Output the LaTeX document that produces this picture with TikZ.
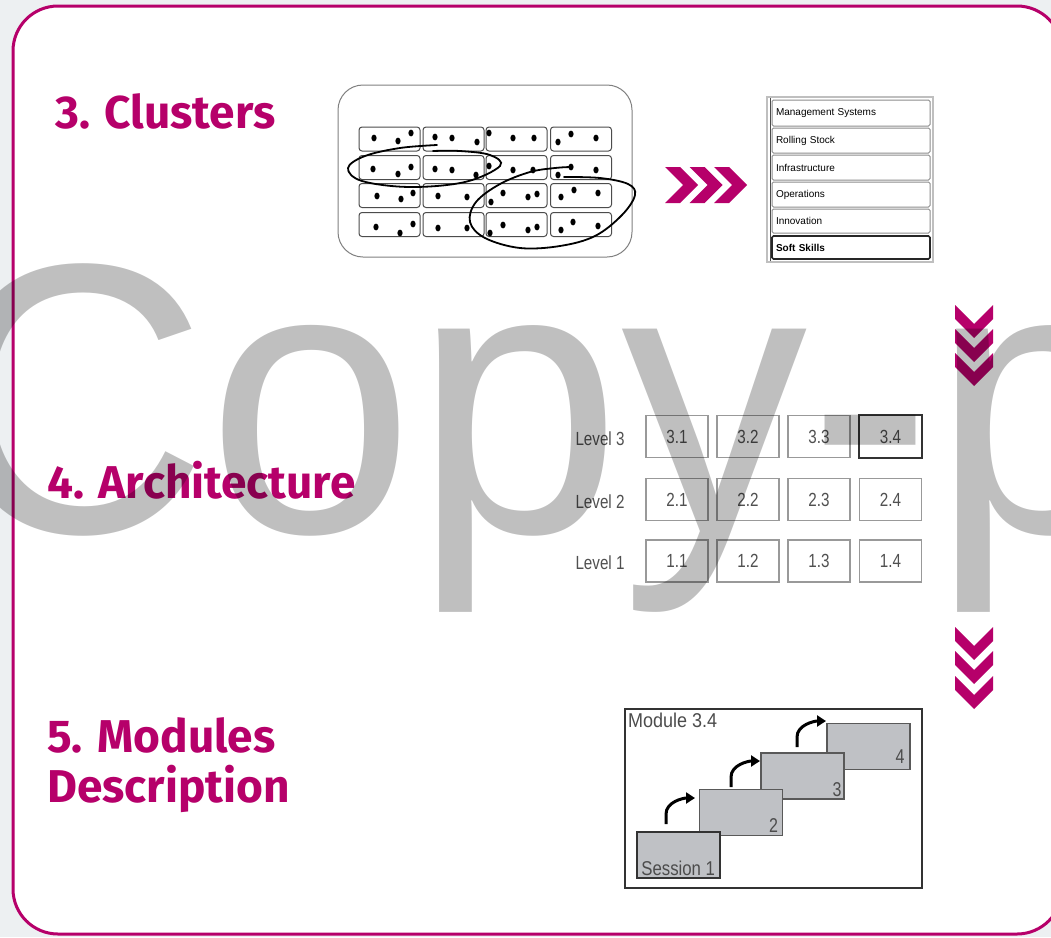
\documentclass[tikz,border=0pt]{standalone}
\usepackage{fontspec}
\usepackage{graphicx}
\setmainfont{Liberation Sans}
\newfontfamily\titlefont{Fira Sans}
\usetikzlibrary{arrows.meta}
\definecolor{brand}{RGB}{182,0,106}
\definecolor{outbg}{RGB}{237,240,242}
\definecolor{sessgray}{RGB}{191,193,197}
\definecolor{txtgray}{RGB}{80,80,80}
\tikzset{
  title/.style={anchor=base west, inner sep=0pt, text=brand, font=\titlefont\bfseries\fontsize{46}{50}\selectfont},
  cell/.style={draw=black!70, line width=1pt, rounded corners=3pt, minimum width=61pt, minimum height=24pt, inner sep=0pt},
  dot/.style={fill=black},
  listbox/.style={draw=black!45, line width=1pt, rounded corners=1.5pt, minimum width=158pt, inner sep=0pt, text width=150pt, align=left, font=\fontsize{10}{11}\selectfont},
  lvbox/.style={draw=black!40, line width=1.3pt, minimum width=62pt, minimum height=42pt, inner sep=0pt, text=txtgray, font=\fontsize{19}{20}\selectfont},
  lvlabel/.style={inner sep=0pt, text=txtgray, font=\fontsize{19}{20}\selectfont},
  sess/.style={draw=black!65, line width=1.3pt, fill=sessgray, minimum width=83pt, minimum height=46pt, inner sep=0pt},
  sesslabel/.style={inner sep=0pt, text=black!70, font=\fontsize{20}{21}\selectfont},
  turnarrow/.style={line width=3pt, -{Triangle[length=9pt,width=11pt]}},
  chevd/.pic={\fill[brand] (-19,0) -- (-19,14) -- (0,33) -- (19,14) -- (19,0) -- (0,19) -- cycle;},
  chevr/.pic={\fill[brand] (0,-18) -- (15,-18) -- (33,0) -- (15,18) -- (0,18) -- (18,0) -- cycle;},
}
\newcommand{\cx}[1]{\scalebox{0.8}[1]{#1}}
\begin{document}
\begin{tikzpicture}[x=1pt, y=-1pt]
\useasboundingbox (0,0) rectangle (1051,937);
\fill[outbg] (0,0) rectangle (1051,937);
\draw[brand, line width=3pt, fill=white, rounded corners=45pt] (13,6) rectangle (1062,934);

% titles
\node[title] (t3) at (55,128) {3. Clusters};
\node[title] (t4) at (47,498) {4. Architecture};
\node[title] (t5a) at (47,752) {5. Modules};
\node[title] (t5b) at (47,802) {Description};

% clusters picture
\draw[black!50, line width=1pt, rounded corners=25pt] (338,85) rectangle (632,257);
\foreach \r/\y in {1/139, 2/167.5, 3/195.5, 4/224.5}{
  \foreach \c/\x in {1/389.5, 2/453.5, 3/516.5, 4/581}{
    \node[cell] (c\r\c) at (\x,\y) {};
  }
}
\foreach \p in {(374,138),(398,141),(411,133),(435,137),(452,138),(477,142),(489,133),(513,138),(534,138),(558,142),(571,134),(596,138),
  (373,169),(398,174),(411,167),(435,169),(452,170),(476,175),(489,166),(513,170),(533,170),(558,175),(571,167),(596,170),
  (377,196),(401,199),(413,193),(438,196),(467,197),(491,202),(503,193),(528,197),(537,194),(561,197),(574,190),(598,193),
  (376,227),(400,233),(413,224),(438,228),(467,228),(490,233),(503,225),(528,230),(537,227),(561,230),(573,222),(598,226)}{
  \fill[dot] \p ellipse (2.6 and 3.4);
}
\draw[line width=1.8pt, line cap=round] plot[smooth, tension=0.6] coordinates {(437,145) (400,148) (365,156) (348,168) (362,181) (410,187) (465,182) (500,166) (490,155) (460,151) (433,151)};
\draw[line width=1.8pt, line cap=round] plot[smooth, tension=0.6] coordinates {(564,177) (600,178) (628,184) (635,195) (622,215) (595,236) (560,246) (520,248) (485,238) (470,222) (476,202) (500,184) (530,172) (555,168) (571,167)};

% chevrons
\pic at (665,185) {chevr};
\pic at (689.5,185) {chevr};
\pic at (714,185) {chevr};
\pic at (974,305) {chevd};
\pic at (974,329) {chevd};
\pic at (974,353) {chevd};
\pic at (974,627) {chevd};
\pic at (974,651) {chevd};
\pic at (974,676) {chevd};

% list
\draw[black!25, line width=1.5pt] (767,97) rectangle (933,262);
\draw[black!70, line width=1pt] (770,98) -- (770,261);
\node[listbox, minimum height=26pt] (l1) at (851,113) {Management Systems};
\node[listbox, minimum height=25pt] (l2) at (851,140.5) {Rolling Stock};
\node[listbox, minimum height=25pt] (l3) at (851,167.5) {Infrastructure};
\node[listbox, minimum height=25pt] (l4) at (851,194.5) {Operations};
\node[listbox, minimum height=24pt] (l5) at (851,221) {Innovation};
\node[listbox, minimum height=23pt, draw=black!85, line width=1.6pt, font=\bfseries\fontsize{10}{11}\selectfont] (l6) at (851,247.5) {Soft Skills};

% architecture grid
\foreach \r/\y in {3/436.5, 2/499.5, 1/561}{
  \node[lvlabel] (lv\r) at (600,\y+2) {\cx{Level \r}};
  \foreach \c/\x in {1/677, 2/748, 3/819, 4/890.5}{
    \node[lvbox] (b\r\c) at (\x,\y) {\cx{\r.\c}};
  }
}
\draw[black!80, line width=2.5pt] (b34.north west) rectangle (b34.south east);

% module description
\draw[black!80, line width=2pt] (625,709) rectangle (922,888);
\node[sesslabel, anchor=north west] (mod) at (628,713) {\scalebox{0.9}[1]{Module 3.4}};
\node[sess] (s4) at (868.5,746.5) {};
\node[sess] (s3) at (802.5,776) {};
\node[sess] (s2) at (741,812.5) {};
\node[sess, draw=black!80, line width=1.8pt] (s1) at (678.5,855) {};
\node[sesslabel, anchor=south east] (n2) at ([shift={(-5,-3)}]s2.south east) {\cx{2}};
\node[sesslabel, anchor=south east] (n3) at ([shift={(-3,-3)}]s3.south east) {\cx{3}};
\node[sesslabel, anchor=south east] (n4) at ([shift={(-6,-6)}]s4.south east) {\cx{4}};
\node[sesslabel, anchor=south west] (n1) at ([shift={(5,-3)}]s1.south west) {\scalebox{0.84}[1]{Session 1}};
\coordinate (a1s) at (666,824); \coordinate (a1e) at (695,798);
\coordinate (a2s) at (731,787); \coordinate (a2e) at (760,761);
\coordinate (a3s) at (797,747); \coordinate (a3e) at (826,721);
\draw[turnarrow] (a1s) -- ++(0,-10) .. controls +(0,-12) and +(-12,0) .. (a1e);
\draw[turnarrow] (a2s) -- ++(0,-10) .. controls +(0,-12) and +(-12,0) .. (a2e);
\draw[turnarrow] (a3s) -- ++(0,-10) .. controls +(0,-12) and +(-12,0) .. (a3e);

% watermark
\node[anchor=base west, inner sep=0pt, text=black, text opacity=0.25, font=\fontsize{385}{390}\selectfont] (wm) at (-61,532) {\scalebox{0.967}[1]{Copy-p}};
\end{tikzpicture}
\end{document}
